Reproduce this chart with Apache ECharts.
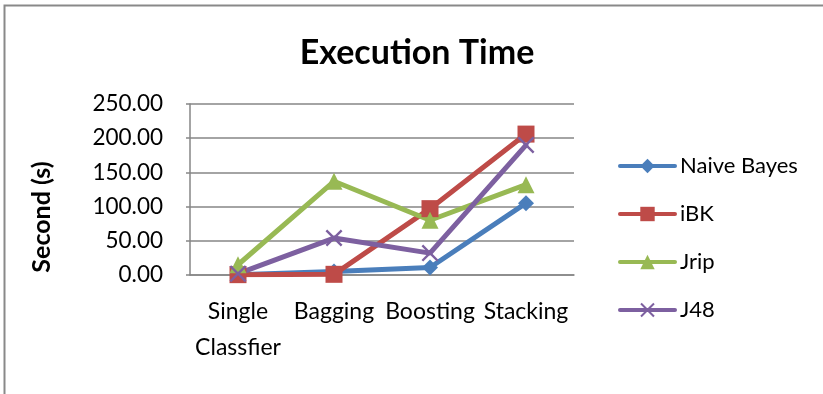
<!DOCTYPE html>
<html>
<head>
<meta charset="utf-8">
<script src="https://cdn.jsdelivr.net/npm/echarts@6/dist/echarts.min.js"></script>
<style>
    html, body { margin: 0; padding: 0; background: #fff; }
    #chart { width: 823px; height: 394px; }
</style>
</head>
<body>
<div id="chart"></div>
<script>
// categories along the x axis
const categories = ['Single\nClassfier', 'Bagging', 'Boosting', 'Stacking'];
const seriesNames = ['Naive Bayes', 'iBK', 'Jrip', 'J48'];
// execution time per method, seconds
const naiveBayes = [0.5, 5, 11, 105];
const ibk = [0.5, 1, 97, 206];
const jrip = [15, 137, 80, 132];
const j48 = [2, 54, 32, 190];
const yTicks = [0, 50, 100, 150, 200, 250];

const font = 'Lato';
const gridColor = '#868686';
// thin X shape for J48 points
const crossPath = 'path://M0,1L1,0L5,4L9,0L10,1L6,5L10,9L9,10L5,6L1,10L0,9L4,5Z';

function makeSeries(name, data, color, symbol, size) {
    return {
        name: name,
        type: 'line',
        data: data,
        symbol: symbol,
        symbolSize: size,
        showAllSymbol: true,
        lineStyle: { color: color, width: 5, cap: 'round' },
        itemStyle: { color: color },
        emphasis: { disabled: true },
        animation: false
    };
}

let myChart = echarts.init(document.getElementById('chart'));
let option = {
    backgroundColor: '#fff',
    title: {
        text: 'Execution Time',
        left: 412,
        top: 31,
        textAlign: 'center',
        textStyle: { fontFamily: font, fontWeight: 'bold', fontSize: 34, color: '#000' }
    },
    legend: {
        orient: 'vertical',
        left: 613,
        top: 150,
        itemWidth: 55,
        itemHeight: 18,
        itemGap: 26,
        lineStyle: { width: 4 },
        textStyle: { fontFamily: font, fontSize: 22, color: '#000', lineHeight: 22 },
        data: seriesNames
    },
    grid: { left: 190, right: 249, top: 104, bottom: 119 },
    xAxis: {
        type: 'category',
        data: categories,
        boundaryGap: true,
        axisLine: { lineStyle: { color: gridColor, width: 1.5 } },
        axisTick: { show: false },
        axisLabel: {
            interval: 0,
            margin: 19,
            fontFamily: font,
            fontSize: 23,
            lineHeight: 36,
            color: '#000'
        }
    },
    yAxis: {
        type: 'value',
        min: yTicks[0],
        max: yTicks[yTicks.length - 1],
        interval: 50,
        axisLine: { show: true, lineStyle: { color: gridColor, width: 1.5 } },
        axisTick: { show: true, length: 4, lineStyle: { color: gridColor, width: 1.5 } },
        splitLine: { lineStyle: { color: gridColor, width: 1.5 } },
        axisLabel: {
            margin: 27,
            fontFamily: font,
            fontSize: 22.5,
            color: '#000',
            formatter: v => v.toFixed(2)
        }
    },
    graphic: [
        {
            type: 'rect',
            shape: { x: 4.5, y: 5.5, width: 900, height: 500 },
            style: { fill: 'none', stroke: '#898989', lineWidth: 2 },
            silent: true
        },
        {
            type: 'text',
            x: 42,
            y: 217,
            rotation: Math.PI / 2,
            style: {
                text: 'Second (s)',
                fontFamily: font,
                fontWeight: 'bold',
                fontSize: 25,
                fill: '#000',
                align: 'center',
                verticalAlign: 'middle'
            }
        }
    ],
    series: [
        makeSeries(seriesNames[0], naiveBayes, '#4A7EBB', 'diamond', 16),
        makeSeries(seriesNames[1], ibk, '#BE4B48', 'rect', 17),
        makeSeries(seriesNames[2], jrip, '#98B954', 'triangle', 17),
        makeSeries(seriesNames[3], j48, '#7D60A0', crossPath, 17)
    ]
};
myChart.setOption(option);
</script>
</body>
</html>
